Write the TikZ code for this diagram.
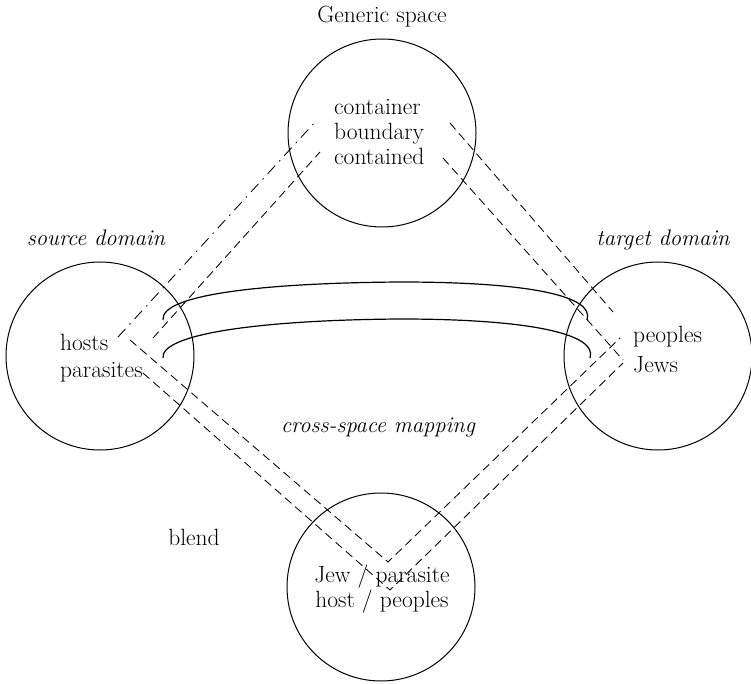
\documentclass[tikz,border=0pt]{standalone}
\begin{document}
\begin{tikzpicture}[x=1pt,y=-1pt,
  space/.style={circle,draw,line width=1pt,minimum size=188pt,inner sep=0pt},
  lbl/.style={inner sep=0pt,font=\fontsize{23.5}{25}\selectfont},
  ital/.style={lbl,font=\fontsize{22.5}{25}\selectfont\itshape},
  mapline/.style={line width=0.85pt,dash pattern=on 8.5pt off 5pt},
  genline/.style={line width=0.85pt,dash pattern=on 11pt off 6pt on 1.6pt off 6pt},
  link/.style={line width=1.2pt}]
\useasboundingbox (0,0) rectangle (751,684);

% the four mental spaces
\node[space] (gen) at (382,133) {};
\node[space] (src) at (100,356) {};
\node[space] (tgt) at (658,356) {};
\node[space] (bld) at (381,587) {};

% labels
\node[lbl,anchor=base] (gentitle) at (382,23) {Generic space};
\node[ital,anchor=base] (srctitle) at (96,246) {source domain};
\node[ital,anchor=base] (tgttitle) at (663,246) {target domain};
\node[ital,anchor=base] (cross) at (378,432) {cross-space mapping};
\node[lbl,anchor=base] (bldtitle) at (194,545) {blend};

% contents of the spaces (anchored at the baseline of the last line)
\node[lbl,anchor=base west,align=left] (gentext) at (334,165)
  {container\\ boundary\\ contained};
\node[lbl,anchor=base west,align=left] (srctext) at (60,377)
  {hosts\\[2pt] parasites};
\node[lbl,anchor=base west,align=left] (tgttext) at (633,372)
  {peoples\\[5pt] Jews};
\node[lbl,anchor=base,align=center] (bldtext) at (382,607)
  {Jew / parasite\\ host / peoples};

% end points of the mapping lines
\coordinate (s1) at (118,337);
\coordinate (g1) at (317,120);
\coordinate (s2) at (153,338);
\coordinate (g2) at (320,152);
\coordinate (g3) at (450,123);
\coordinate (t3) at (613,312);
\coordinate (g4) at (443,158);
\coordinate (t4) at (623,360);
\coordinate (s5) at (130,340);
\coordinate (b5) at (388,562);
\coordinate (s6) at (143,373);
\coordinate (b6) at (390,590);
\coordinate (t5) at (620,338);
\coordinate (t6) at (623,363);

% generic space projections
\draw[genline] (s1) -- (g1);
\draw[mapline] (s2) -- (g2);
\draw[mapline] (g3) -- (t3);
\draw[mapline] (g4) -- (t4);

% projections into the blend
\draw[mapline] (s5) -- (b5) -- (t5);
\draw[mapline] (s6) -- (b6) -- (t6);

% cross-space mapping between the input spaces
\coordinate (a1) at (163,320);
\coordinate (a2) at (400,282);
\coordinate (a3) at (587,320);
\coordinate (c1) at (163,358);
\coordinate (c2) at (400,319);
\coordinate (c3) at (590,358);
\draw[link] (a1) .. controls (160,295) and (260,283) .. (a2)
  .. controls (530,282) and (595,296) .. (a3);
\draw[link] (c1) .. controls (160,334) and (260,320) .. (c2)
  .. controls (530,319) and (598,334) .. (c3);
\end{tikzpicture}
\end{document}
